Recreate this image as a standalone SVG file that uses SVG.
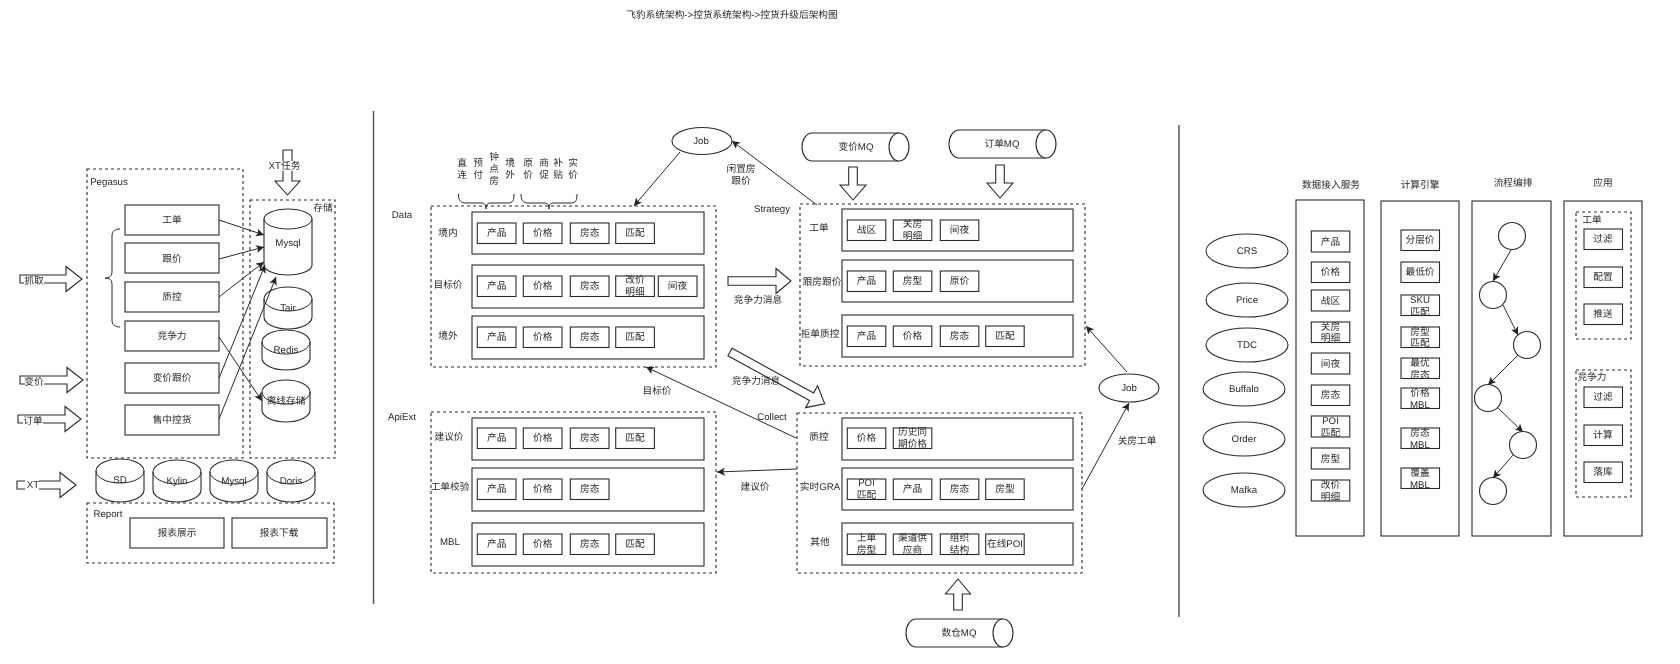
<svg xmlns="http://www.w3.org/2000/svg" width="1680" height="664" viewBox="0 0 1680 664">
<style>
text{font-family:"Liberation Sans","Noto Sans CJK SC",sans-serif;font-size:9.7px;fill:#2a2a2a;text-anchor:middle;dominant-baseline:central;text-rendering:geometricPrecision}
.s,.b,.d,.c{stroke:#2a2a2a;stroke-width:1.1;fill:#fff}
.d{fill:none;stroke-dasharray:3 3}
.p{fill:none}
.l{stroke:#2a2a2a;stroke-width:1;fill:none}
.v{stroke:#555;stroke-width:1.5;fill:none}
.a{stroke:#2a2a2a;stroke-width:1;fill:none;marker-end:url(#ah)}
.w{fill:#fff;stroke:none}
</style>
<defs>
<marker id="ah" markerUnits="userSpaceOnUse" markerWidth="9" markerHeight="8" refX="8" refY="4" orient="auto"><path d="M0 0L8 4L0 8L2 4Z" fill="#222"/></marker>
<filter id="soft" x="0" y="0" width="100%" height="100%"><feGaussianBlur stdDeviation="0.35"/></filter>
</defs>
<rect width="1680" height="664" fill="#fff"/>
<g id="diagram" filter="url(#soft)">
<rect width="1680" height="664" fill="#fff"/>
<g id="title"><text x="732" y="15">飞豹系统架构-&gt;控货系统架构-&gt;控货升级后架构图</text></g>
<g id="separators"><line class="v" x1="373.500" y1="111" x2="373.500" y2="604"/><line class="v" x1="1179" y1="125" x2="1179" y2="617"/></g>

<g id="pegasus">
<rect class="d" x="87" y="169" width="156" height="289"/>
<text x="109" y="182">Pegasus</text>
<g id="pg-gongdan"><rect class="b" x="125" y="205" width="94" height="30"/><text x="172" y="220">工单</text></g>
<g id="pg-genjia"><rect class="b" x="125" y="243" width="94" height="30"/><text x="172" y="259">跟价</text></g>
<g id="pg-zhikong"><rect class="b" x="125" y="282" width="94" height="30"/><text x="172" y="297">质控</text></g>
<g id="pg-jingzheng"><rect class="b" x="125" y="321" width="94" height="30"/><text x="172" y="336">竞争力</text></g>
<g id="pg-bianjia"><rect class="b" x="125" y="363" width="94" height="30"/><text x="172" y="378">变价跟价</text></g>
<g id="pg-shouzhong"><rect class="b" x="125" y="405" width="94" height="30"/><text x="172" y="420">售中控货</text></g>
<path class="l" d="M120 229C115 229 112 231 112 236V271C112 276 110 278 105 278C110 278 112 280 112 285V320C112 325 115 327 120 327"/>
</g>

<g id="storage">
<rect class="d" x="250" y="200" width="85" height="258"/>
<text x="323" y="208">存储</text>
<g id="db-mysql"><path class="c" d="M264 219A24 10 0 0 1 312 219V265A24 10 0 0 1 264 265Z"/><path class="p l" d="M264 219A24 10 0 0 0 312 219"/><text x="288" y="243">Mysql</text></g>
<g id="db-tair"><path class="c" d="M264 299A24 12 0 0 1 312 299V317A24 12 0 0 1 264 317Z"/><path class="l" d="M264 299A24 12 0 0 0 312 299"/><text x="288" y="308">Tair</text></g>
<g id="db-redis"><path class="c" d="M262 342A24 12 0 0 1 310 342V358A24 12 0 0 1 262 358Z"/><path class="l" d="M262 342A24 12 0 0 0 310 342"/><text x="286" y="350">Redis</text></g>
<g id="db-offline"><path class="c" d="M262 392A24 12 0 0 1 310 392V410A24 12 0 0 1 262 410Z"/><path class="l" d="M262 392A24 12 0 0 0 310 392"/><text x="286" y="401">离线存储</text></g>
</g>
<g id="db-sd"><path class="c" d="M96 471A24 12 0 0 1 144 471V490A24 12 0 0 1 96 490Z"/><path class="l" d="M96 471A24 12 0 0 0 144 471"/><text x="120" y="480">SD</text></g>
<g id="db-kylin"><path class="c" d="M153 472A24 12 0 0 1 201 472V490A24 12 0 0 1 153 490Z"/><path class="l" d="M153 472A24 12 0 0 0 201 472"/><text x="177" y="481">Kylin</text></g>
<g id="db-mysql2"><path class="c" d="M210 472A24 12 0 0 1 258 472V490A24 12 0 0 1 210 490Z"/><path class="l" d="M210 472A24 12 0 0 0 258 472"/><text x="234" y="481">Mysql</text></g>
<g id="db-doris"><path class="c" d="M267 472A24 12 0 0 1 315 472V490A24 12 0 0 1 267 490Z"/><path class="l" d="M267 472A24 12 0 0 0 315 472"/><text x="291" y="481">Doris</text></g>
<g id="report">
<rect class="d" x="87" y="503" width="247" height="60"/>
<text x="108" y="514">Report</text>
<g id="rp-show"><rect class="b" x="130" y="518" width="94" height="30"/><text x="177" y="533">报表展示</text></g>
<g id="rp-down"><rect class="b" x="232" y="518" width="95" height="30"/><text x="279" y="533">报表下载</text></g>
</g>

<g id="in-zhuaqu"><path class="b" d="M20 275H66V266.500L82 279L66 291.500V283H20Z"/><rect class="w" x="24" y="276" width="20" height="10"/><text x="34" y="281">抓取</text></g>
<g id="in-bianjia"><path class="b" d="M20 376H67V367.500L83 380L67 392.500V384H20Z"/><rect class="w" x="25" y="377" width="19" height="10"/><text x="34" y="382">变价</text></g>
<g id="in-dingdan"><path class="b" d="M18 415H65V406.500L81 419L65 431.500V423H18Z"/><rect class="w" x="23" y="416" width="20" height="10"/><text x="33" y="421">订单</text></g>
<g id="in-xt"><path class="b" d="M17 481H60V472.500L76 485L60 497.500V489H17Z"/><rect class="w" x="25" y="479" width="14" height="12"/><text x="33" y="485">XT</text></g>
<g id="in-xtjob"><path class="b" d="M283 150H292V181H300L287.500 195L275 181H283Z"/><rect class="w" x="269" y="161" width="31" height="10"/><text x="284.500" y="166">XT任务</text></g>

<g id="data">
<rect class="d" x="431" y="206" width="285" height="161"/>
<text x="402" y="215">Data</text>
<g id="row-jingnei"><rect class="b" x="472" y="212" width="232" height="42"/><text x="448" y="233">境内</text>
<rect class="b" x="477.300" y="223" width="38.700" height="20.500"/><text x="496.700" y="233">产品</text>
<rect class="b" x="523.300" y="223" width="38.700" height="20.500"/><text x="542.700" y="233">价格</text>
<rect class="b" x="570.300" y="223" width="38.700" height="20.500"/><text x="589.700" y="233">房态</text>
<rect class="b" x="615.700" y="223" width="38.700" height="20.500"/><text x="635" y="233">匹配</text></g>
<g id="row-mubiao"><rect class="b" x="472" y="265" width="232" height="43"/><text x="448" y="285">目标价</text>
<rect class="b" x="477.300" y="276" width="38.700" height="20.500"/><text x="496.700" y="286">产品</text>
<rect class="b" x="523.300" y="276" width="38.700" height="20.500"/><text x="542.700" y="286">价格</text>
<rect class="b" x="570.300" y="276" width="38.700" height="20.500"/><text x="589.700" y="286">房态</text>
<rect class="b" x="615.700" y="276" width="38.700" height="20.500"/><text x="635" y="280">改价</text><text x="635" y="292">明细</text>
<rect class="b" x="658.300" y="276" width="38.700" height="20.500"/><text x="677.500" y="286">间夜</text></g>
<g id="row-jingwai"><rect class="b" x="472" y="316" width="232" height="43"/><text x="448" y="336">境外</text>
<rect class="b" x="477.300" y="327" width="38.700" height="20.500"/><text x="496.700" y="337">产品</text>
<rect class="b" x="523.300" y="327" width="38.700" height="20.500"/><text x="542.700" y="337">价格</text>
<rect class="b" x="570.300" y="327" width="38.700" height="20.500"/><text x="589.700" y="337">房态</text>
<rect class="b" x="615.700" y="327" width="38.700" height="20.500"/><text x="635" y="337">匹配</text></g>
</g>
<g id="dims">
<text x="462" y="163">直</text><text x="462" y="175">连</text>
<text x="478" y="163">预</text><text x="478" y="175">付</text>
<text x="494" y="157">钟</text><text x="494" y="169">点</text><text x="494" y="181">房</text>
<text x="510" y="163">境</text><text x="510" y="175">外</text>
<text x="528" y="163">原</text><text x="528" y="175">价</text>
<text x="544" y="163">商</text><text x="544" y="175">促</text>
<text x="558" y="163">补</text><text x="558" y="175">贴</text>
<text x="573" y="163">实</text><text x="573" y="175">价</text>
<path class="l" d="M458.500 194C458.500 200 460 203 466 203H481C484 203 486 204 486 209C486 204 488 203 491 203H508C513 203 514 200 514 194"/>
<path class="l" d="M521 194C521 200 523 203 528 203H544C547 203 549 204 549 209C549 204 551 203 554 203H571C576 203 577 200 577 194"/>
</g>

<g id="apiext">
<rect class="d" x="431" y="412" width="285" height="161"/>
<text x="402" y="417">ApiExt</text>
<g id="row-jianyi"><rect class="b" x="472" y="418" width="232" height="42"/><text x="449" y="437">建议价</text>
<rect class="b" x="477.300" y="428" width="38.700" height="20.500"/><text x="496.700" y="438">产品</text>
<rect class="b" x="523.300" y="428" width="38.700" height="20.500"/><text x="542.700" y="438">价格</text>
<rect class="b" x="570.300" y="428" width="38.700" height="20.500"/><text x="589.700" y="438">房态</text>
<rect class="b" x="615.700" y="428" width="38.700" height="20.500"/><text x="635" y="438">匹配</text></g>
<g id="row-jiaoyan"><rect class="b" x="472" y="468" width="232" height="43"/><text x="450" y="487">工单校验</text>
<rect class="b" x="477.300" y="479" width="38.700" height="20.500"/><text x="496.700" y="489">产品</text>
<rect class="b" x="523.300" y="479" width="38.700" height="20.500"/><text x="542.700" y="489">价格</text>
<rect class="b" x="570.300" y="479" width="38.700" height="20.500"/><text x="589.700" y="489">房态</text></g>
<g id="row-mbl"><rect class="b" x="472" y="523" width="232" height="43"/><text x="450" y="542">MBL</text>
<rect class="b" x="477.300" y="534" width="38.700" height="20.500"/><text x="496.700" y="544">产品</text>
<rect class="b" x="523.300" y="534" width="38.700" height="20.500"/><text x="542.700" y="544">价格</text>
<rect class="b" x="570.300" y="534" width="38.700" height="20.500"/><text x="589.700" y="544">房态</text>
<rect class="b" x="615.700" y="534" width="38.700" height="20.500"/><text x="635" y="544">匹配</text></g>
</g>

<g id="strategy">
<rect class="d" x="800" y="204" width="285" height="162"/>
<text x="772" y="209">Strategy</text>
<g id="row-s1"><rect class="b" x="842" y="209" width="231" height="42"/><text x="819" y="228">工单</text>
<rect class="b" x="847.300" y="220" width="38.500" height="20.500"/><text x="866.500" y="230">战区</text>
<rect class="b" x="893.300" y="220" width="38.500" height="20.500"/><text x="912.500" y="224">关房</text><text x="912.500" y="236">明细</text>
<rect class="b" x="940.300" y="220" width="38.500" height="20.500"/><text x="959.500" y="230">间夜</text></g>
<g id="row-s2"><rect class="b" x="842" y="260" width="231" height="42"/><text x="822" y="282">跟房跟价</text>
<rect class="b" x="847.300" y="271" width="38.500" height="20.500"/><text x="866.500" y="281">产品</text>
<rect class="b" x="893.300" y="271" width="38.500" height="20.500"/><text x="912.500" y="281">房型</text>
<rect class="b" x="940.300" y="271" width="38.500" height="20.500"/><text x="959.500" y="281">原价</text></g>
<g id="row-s3"><rect class="b" x="842" y="315" width="231" height="42"/><text x="820" y="334">拒单质控</text>
<rect class="b" x="847.300" y="326" width="38.500" height="20.500"/><text x="866.500" y="336">产品</text>
<rect class="b" x="893.300" y="326" width="38.500" height="20.500"/><text x="912.500" y="336">价格</text>
<rect class="b" x="940.300" y="326" width="38.500" height="20.500"/><text x="959.500" y="336">房态</text>
<rect class="b" x="985.700" y="326" width="38.500" height="20.500"/><text x="1005" y="336">匹配</text></g>
</g>

<g id="collect">
<rect class="d" x="797" y="413" width="285" height="160"/>
<text x="772" y="417">Collect</text>
<g id="row-c1"><rect class="b" x="842" y="418" width="231" height="42"/><text x="819" y="437">质控</text>
<rect class="b" x="847.300" y="428" width="38.500" height="20.500"/><text x="866.500" y="438">价格</text>
<rect class="b" x="893.300" y="428" width="38.500" height="20.500"/><text x="912.500" y="432">历史同</text><text x="912.500" y="444">期价格</text></g>
<g id="row-c2"><rect class="b" x="842" y="468" width="231" height="42"/><text x="820" y="487">实时GRA</text>
<rect class="b" x="847.300" y="479" width="38.500" height="20.500"/><text x="866.500" y="483">POI</text><text x="866.500" y="495">匹配</text>
<rect class="b" x="893.300" y="479" width="38.500" height="20.500"/><text x="912.500" y="489">产品</text>
<rect class="b" x="940.300" y="479" width="38.500" height="20.500"/><text x="959.500" y="489">房态</text>
<rect class="b" x="985.700" y="479" width="38.500" height="20.500"/><text x="1005" y="489">房型</text></g>
<g id="row-c3"><rect class="b" x="842" y="523" width="231" height="42"/><text x="820" y="542">其他</text>
<rect class="b" x="847.300" y="534" width="38.500" height="20.500"/><text x="866.500" y="538">上单</text><text x="866.500" y="550">房型</text>
<rect class="b" x="893.300" y="534" width="38.500" height="20.500"/><text x="912.500" y="538">渠道供</text><text x="912.500" y="550">应商</text>
<rect class="b" x="940.300" y="534" width="38.500" height="20.500"/><text x="959.500" y="538">组织</text><text x="959.500" y="550">结构</text>
<rect class="b" x="985.700" y="534" width="38.500" height="20.500"/><text x="1005" y="544">在线POI</text></g>
</g>

<g id="job1"><ellipse class="s" cx="702" cy="141" rx="30" ry="13.500"/><text x="701" y="141">Job</text></g>
<g id="job2"><ellipse class="s" cx="1129" cy="388" rx="30" ry="14"/><text x="1129" y="388">Job</text></g>
<g id="mq-bianjia"><path class="s" d="M899 133H812A10 14 0 0 0 812 161H899"/><ellipse class="s" cx="899" cy="147" rx="10" ry="14"/><text x="856" y="147">变价MQ</text></g>
<g id="mq-dingdan"><path class="s" d="M1046 130H959A10 14 0 0 0 959 158H1046"/><ellipse class="s" cx="1046" cy="144" rx="10" ry="14"/><text x="1002" y="144">订单MQ</text></g>
<g id="mq-shucang"><path class="s" d="M1003 619H916A10 14 0 0 0 916 647H1003"/><ellipse class="s" cx="1003" cy="633" rx="10" ry="14"/><text x="959" y="633">数仓MQ</text></g>
<g id="ar-bianjia"><path class="b" d="M848.700 167H857.300V185H866L853 200L840 185H848.700Z"/></g>
<g id="ar-dingdan"><path class="b" d="M995.700 165H1004.300V183H1013L1000 198L987 183H995.700Z"/></g>
<g id="ar-jingzheng"><path class="b" d="M728 276.700H776V268.500L791 281L776 293.500V285.300H728Z"/><text x="758" y="300">竞争力消息</text></g>
<g id="ar-jingzheng2"><path class="b" transform="translate(730 352) rotate(28.700)" d="M0 -4.300H93V-12.500L108 0L93 12.500V4.300H0Z"/><text x="756" y="381">竞争力消息</text></g>
<g id="ar-shucang"><path class="b" d="M953.700 610V594H945.500L958 579L970.500 594H962.300V610Z"/></g>

<g id="panel-ingest">
<rect class="b" x="1296" y="200" width="68" height="336"/>
<text x="1331" y="185">数据接入服务</text>
<rect class="b" x="1311.300" y="231" width="38.500" height="21"/><text x="1330.500" y="242">产品</text>
<rect class="b" x="1311.300" y="262" width="38.500" height="20.500"/><text x="1330.500" y="272">价格</text>
<rect class="b" x="1311.300" y="290" width="38.500" height="21"/><text x="1330.500" y="301">战区</text>
<rect class="b" x="1311.300" y="322" width="38.500" height="20.500"/><text x="1330.500" y="327">关房</text><text x="1330.500" y="338">明细</text>
<rect class="b" x="1311.300" y="353" width="38.500" height="21"/><text x="1330.500" y="364">间夜</text>
<rect class="b" x="1311.300" y="385" width="38.500" height="20.500"/><text x="1330.500" y="395">房态</text>
<rect class="b" x="1311.300" y="416" width="38.500" height="21"/><text x="1330.500" y="421">POI</text><text x="1330.500" y="433">匹配</text>
<rect class="b" x="1311.300" y="448" width="38.500" height="21"/><text x="1330.500" y="459">房型</text>
<rect class="b" x="1311.300" y="480" width="38.500" height="21"/><text x="1330.500" y="485">改价</text><text x="1330.500" y="497">明细</text>
</g>
<g id="src-crs"><ellipse class="s" cx="1247" cy="251" rx="41" ry="17"/><text x="1247" y="251">CRS</text></g>
<g id="src-price"><ellipse class="s" cx="1247" cy="300" rx="41" ry="17"/><text x="1247" y="300">Price</text></g>
<g id="src-tdc"><ellipse class="s" cx="1247" cy="345" rx="41" ry="17"/><text x="1247" y="345">TDC</text></g>
<g id="src-buffalo"><ellipse class="s" cx="1244" cy="389" rx="41" ry="17"/><text x="1244" y="389">Buffalo</text></g>
<g id="src-order"><ellipse class="s" cx="1244" cy="439" rx="41" ry="17"/><text x="1244" y="439">Order</text></g>
<g id="src-mafka"><ellipse class="s" cx="1244" cy="490" rx="41" ry="17"/><text x="1244" y="490">Mafka</text></g>

<g id="panel-engine">
<rect class="b" x="1381" y="201" width="78" height="335"/>
<text x="1420" y="185">计算引擎</text>
<rect class="b" x="1401" y="230" width="38.500" height="20.500"/><text x="1420" y="240">分层价</text>
<rect class="b" x="1401" y="262" width="38.500" height="20.500"/><text x="1420" y="272">最低价</text>
<rect class="b" x="1401" y="295" width="38.500" height="20.500"/><text x="1420" y="300">SKU</text><text x="1420" y="312">匹配</text>
<rect class="b" x="1401" y="327" width="38.500" height="20.500"/><text x="1420" y="332">房型</text><text x="1420" y="343">匹配</text>
<rect class="b" x="1401" y="358" width="38.500" height="20.500"/><text x="1420" y="363">最优</text><text x="1420" y="375">房态</text>
<rect class="b" x="1401" y="388" width="38.500" height="20.500"/><text x="1420" y="393">价格</text><text x="1420" y="405">MBL</text>
<rect class="b" x="1401" y="428" width="38.500" height="20.500"/><text x="1420" y="433">房态</text><text x="1420" y="445">MBL</text>
<rect class="b" x="1401" y="468" width="38.500" height="20.500"/><text x="1420" y="473">覆盖</text><text x="1420" y="485">MBL</text>
</g>

<g id="panel-flow">
<rect class="b" x="1472" y="201" width="79" height="335"/>
<text x="1513" y="183">流程编排</text>
<circle class="s" cx="1512" cy="236" r="13.500"/>
<circle class="s" cx="1493" cy="295" r="13.500"/>
<circle class="s" cx="1527" cy="345" r="13.500"/>
<circle class="s" cx="1488" cy="398" r="13.500"/>
<circle class="s" cx="1523" cy="445" r="13.500"/>
<circle class="s" cx="1493" cy="491" r="13.500"/>
</g>

<g id="panel-app">
<rect class="b" x="1564" y="201" width="78" height="335"/>
<text x="1603" y="183">应用</text>
<rect class="d" x="1576" y="212" width="55" height="127"/>
<text x="1592" y="220">工单</text>
<rect class="b" x="1584" y="229" width="38.500" height="20.500"/><text x="1603" y="239">过滤</text>
<rect class="b" x="1584" y="267" width="38.500" height="20.500"/><text x="1603" y="277">配置</text>
<rect class="b" x="1584" y="304" width="38.500" height="20.500"/><text x="1603" y="314">推送</text>
<rect class="d" x="1576" y="370" width="55" height="127"/>
<text x="1592" y="377">竞争力</text>
<rect class="b" x="1584" y="387" width="38.500" height="20.500"/><text x="1603" y="397">过滤</text>
<rect class="b" x="1584" y="425" width="38.500" height="20.500"/><text x="1603" y="435">计算</text>
<rect class="b" x="1584" y="462" width="38.500" height="20.500"/><text x="1603" y="472">落库</text>
</g>

<g id="connectors">
<line class="a" x1="219" y1="220" x2="264" y2="235"/>
<line class="a" x1="219" y1="259" x2="264" y2="247"/>
<line class="a" x1="219" y1="297" x2="264" y2="262"/>
<line class="a" x1="219" y1="378" x2="265" y2="265"/>
<line class="a" x1="219" y1="419" x2="276" y2="277"/>
<line class="a" x1="219" y1="337" x2="262" y2="401"/>
<line class="a" x1="680" y1="152" x2="634" y2="206"/>
<line class="a" x1="817" y1="205" x2="732" y2="141"/>
<line class="a" x1="1127" y1="372" x2="1086" y2="326"/>
<line class="a" x1="1082" y1="489" x2="1129" y2="403"/>
<line class="a" x1="797" y1="469" x2="717" y2="472"/>
<line class="a" x1="796" y1="438" x2="646" y2="367"/>
<line class="a" x1="1511" y1="250" x2="1493" y2="281"/>
<line class="a" x1="1503" y1="305" x2="1518" y2="335"/>
<line class="a" x1="1518" y1="355" x2="1488" y2="385"/>
<line class="a" x1="1498" y1="408" x2="1523" y2="432"/>
<line class="a" x1="1513" y1="455" x2="1493" y2="478"/>
<text x="741" y="169">闲置房</text><text x="741" y="181">跟价</text>
<text x="657" y="391">目标价</text>
<text x="755" y="487">建议价</text>
<text x="1137" y="441">关房工单</text>
</g>
</g>
</svg>
